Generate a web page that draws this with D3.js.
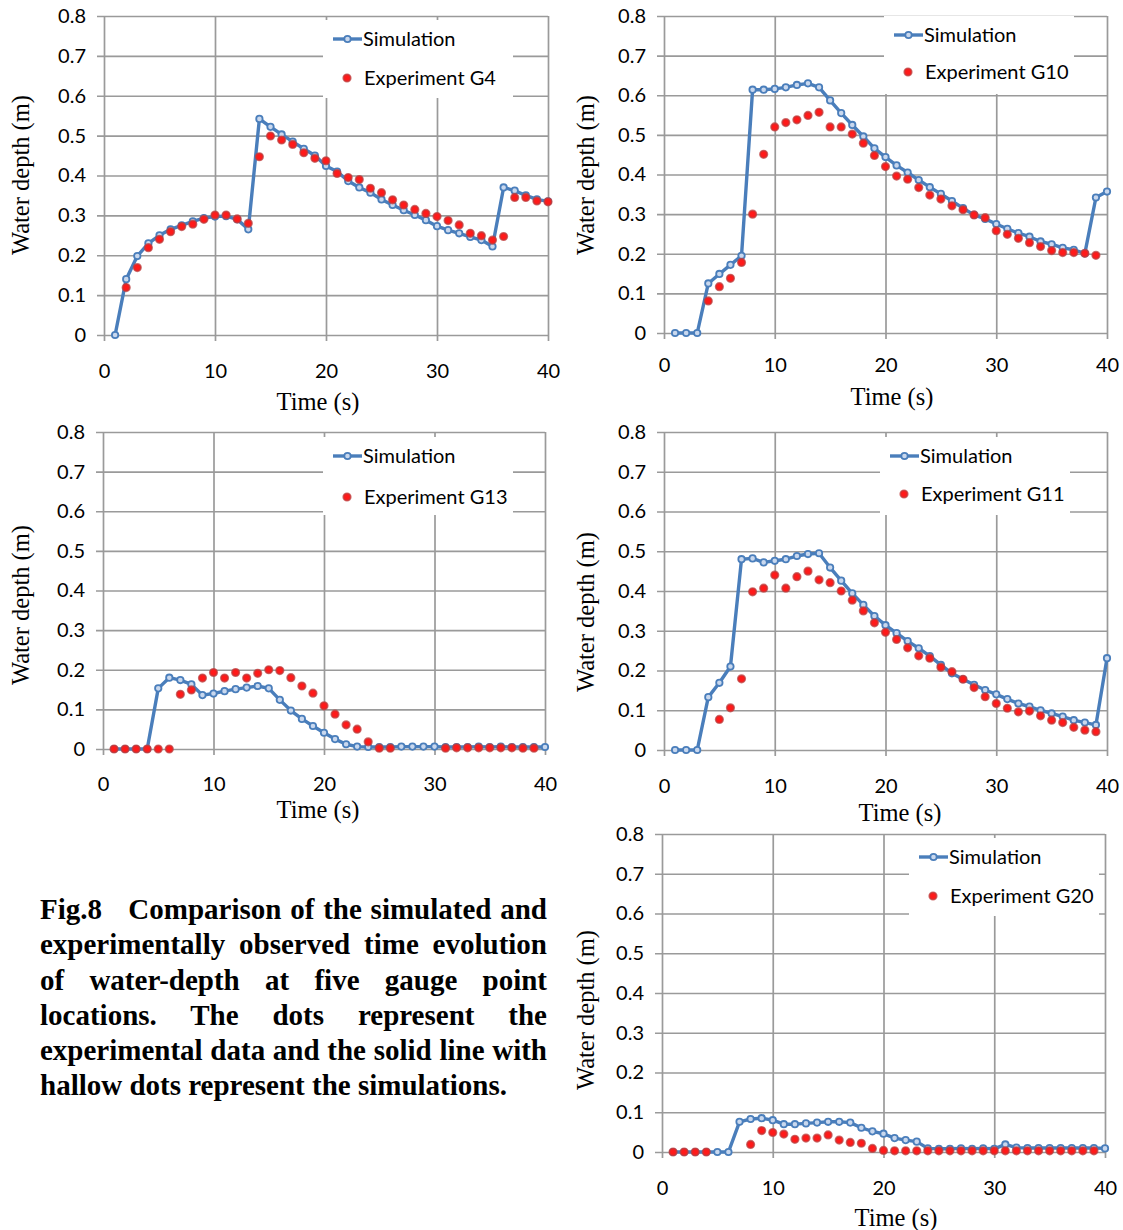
<!DOCTYPE html>
<html>
<head>
<meta charset="utf-8">
<script src="https://cdn.jsdelivr.net/npm/d3@7"></script>
<style>
  body { margin: 0; background: #fff; }
  #wrap { position: relative; width: 1123px; height: 1230px; }
  #caption { position: absolute; left: 40px; top: 892px; width: 507px;
    font-family: "Liberation Serif", "Times New Roman", serif; font-weight: bold;
    font-size: 29px; line-height: 35.3px; color: #000; }
  #caption div { text-align: justify; text-align-last: justify; white-space: nowrap; }
  #caption div.last { text-align-last: left; }
</style>
</head>
<body>
<div id="wrap">
  <svg id="chart" width="1123" height="1230"></svg>
  <div id="caption">
    <div>Fig.8&nbsp;&nbsp; Comparison of the simulated and</div>
    <div>experimentally observed time evolution</div>
    <div>of water-depth at five gauge point</div>
    <div>locations. The dots represent the</div>
    <div>experimental data and the solid line with</div>
    <div class="last">hallow dots represent the simulations.</div>
  </div>
</div>
<script>
// time in seconds, one sample per second
var time = [1,2,3,4,5,6,7,8,9,10,11,12,13,14,15,16,17,18,19,20,
            21,22,23,24,25,26,27,28,29,30,31,32,33,34,35,36,37,38,39,40];
var xTicks = [0,10,20,30,40];
var yTicks = [0,0.1,0.2,0.3,0.4,0.5,0.6,0.7,0.8];

var simG4 = [0,0.14,0.198,0.23,0.25,0.265,0.275,0.285,0.293,0.297,0.298,0.29,0.265,0.542,0.522,0.503,0.485,0.467,0.45,0.424,
             0.41,0.386,0.37,0.357,0.34,0.326,0.313,0.301,0.288,0.273,0.263,0.255,0.246,0.238,0.222,0.37,0.362,0.35,0.34,0.335];
var expG4 = [null,0.119,0.169,0.219,0.24,0.259,0.272,0.278,0.29,0.301,0.301,0.291,0.28,0.447,0.499,0.489,0.478,0.457,0.443,0.437,
             0.405,0.395,0.39,0.368,0.357,0.339,0.326,0.315,0.305,0.297,0.287,0.276,0.255,0.249,0.238,0.247,0.345,0.345,0.336,0.334];

var simG10 = [0,0,0,0.125,0.149,0.172,0.195,0.614,0.614,0.616,0.62,0.626,0.63,0.62,0.587,0.555,0.525,0.496,0.466,0.444,
              0.423,0.405,0.386,0.368,0.351,0.333,0.315,0.298,0.288,0.275,0.263,0.252,0.243,0.231,0.224,0.215,0.21,0.201,0.342,0.357];
var expG10 = [null,null,null,0.081,0.117,0.138,0.178,0.3,0.451,0.52,0.531,0.538,0.549,0.557,0.52,0.52,0.502,0.479,0.448,0.42,
              0.396,0.388,0.367,0.348,0.338,0.321,0.311,0.298,0.291,0.258,0.249,0.239,0.228,0.218,0.208,0.203,0.203,0.201,0.196,null];

var simG13 = [0,0,0,0,0.153,0.18,0.174,0.163,0.136,0.14,0.146,0.151,0.155,0.159,0.153,0.124,0.097,0.076,0.058,0.041,
              0.025,0.012,0.006,0.005,0.005,0.005,0.006,0.006,0.006,0.006,0.005,0.005,0.005,0.006,0.005,0.006,0.005,0.005,0.005,0.005];
var expG13 = [0,0,0,0,0,0,0.138,0.149,0.179,0.193,0.179,0.193,0.179,0.191,0.2,0.198,0.18,0.159,0.141,0.109,
              0.088,0.061,0.05,0.018,0.002,0.002,null,null,null,null,0.002,0.003,0.003,0.003,0.003,0.003,0.003,0.002,0.002,null];

var simG11 = [0,0,0,0.133,0.169,0.21,0.48,0.482,0.472,0.476,0.48,0.488,0.493,0.495,0.459,0.426,0.394,0.365,0.337,0.314,
              0.294,0.274,0.256,0.236,0.214,0.193,0.178,0.164,0.151,0.14,0.128,0.117,0.109,0.1,0.092,0.084,0.075,0.069,0.063,0.231];
var expG11 = [null,null,null,null,0.077,0.106,0.179,0.398,0.407,0.44,0.407,0.436,0.45,0.428,0.421,0.4,0.377,0.35,0.32,0.296,
              0.278,0.257,0.237,0.231,0.208,0.197,0.178,0.157,0.134,0.117,0.105,0.096,0.098,0.086,0.075,0.069,0.057,0.05,0.046,null];

var simG20 = [0,0,0,0,0,0,0.076,0.083,0.085,0.08,0.07,0.07,0.072,0.074,0.076,0.076,0.074,0.061,0.052,0.046,
              0.035,0.03,0.026,0.009,0.008,0.008,0.009,0.008,0.009,0.008,0.019,0.011,0.01,0.01,0.01,0.01,0.01,0.01,0.01,0.009];
var expG20 = [0,0,0,0,null,null,null,0.019,0.054,0.049,0.045,0.032,0.035,0.035,0.043,0.03,0.024,0.022,0.009,0.004,
              0.003,0.003,0.003,0.003,0.003,0.003,0.003,0.003,0.003,0.003,0.003,0.003,0.003,0.003,0.003,0.003,0.003,0.003,0.003,null];

var blue = "#4a7ebb", red = "#ff1a1a", grid = "#9a9a9a";
var sans = "Lato, 'Open Sans', sans-serif";
var serif = "'Liberation Serif', 'Times New Roman', serif";

// plot boxes in page pixels, legend box (lx, ly, gap between rows), x label padding and axis title spots
var panels = [
  {sim: simG4,  exp: expG4,  name: "Experiment G4",  l: 104, r: 548,  t: 16,  b: 335,  lx: 323, ly: 20,  gap: 39, pad: 23, yt: [20, 175],  xt: [318, 401]},
  {sim: simG10, exp: expG10, name: "Experiment G10", l: 664, r: 1107, t: 16,  b: 333,  lx: 884, ly: 16,  gap: 37, pad: 19, yt: [585, 175], xt: [892, 396]},
  {sim: simG13, exp: expG13, name: "Experiment G13", l: 103, r: 545,  t: 432, b: 749,  lx: 323, ly: 437, gap: 41, pad: 22, yt: [20, 605],  xt: [318, 809]},
  {sim: simG11, exp: expG11, name: "Experiment G11", l: 664, r: 1107, t: 432, b: 750,  lx: 880, ly: 437, gap: 38, pad: 23, yt: [585, 612], xt: [900, 812]},
  {sim: simG20, exp: expG20, name: "Experiment G20", l: 662, r: 1105, t: 834, b: 1152, lx: 909, ly: 838, gap: 39, pad: 23, yt: [585, 1010], xt: [896, 1217]}
];

var svg = d3.select("#chart");

panels.forEach(function (p) {
  var x = d3.scaleLinear().domain([0, 40]).range([p.l, p.r]);
  var y = d3.scaleLinear().domain([0, 0.8]).range([p.b, p.t]);
  var w = p.r - p.l, h = p.b - p.t;
  var g = svg.append("g");

  // horizontal grid + y tick labels
  var ya = g.append("g")
    .attr("transform", "translate(" + (p.l - 7) + ",0)")
    .call(d3.axisLeft(y).tickValues(yTicks).tickSize(-(w + 7)).tickPadding(11)
      .tickFormat(function (d) { return d === 0 ? "0" : d3.format(".1f")(d); }));
  // vertical grid + x tick labels
  var xa = g.append("g")
    .attr("transform", "translate(0," + (p.b + 6) + ")")
    .call(d3.axisBottom(x).tickValues(xTicks).tickSize(-(h + 6)).tickPadding(p.pad));

  [ya, xa].forEach(function (a) {
    a.select(".domain").remove();
    a.selectAll("line").attr("stroke", grid).attr("stroke-width", 1.7);
    a.selectAll("text").attr("font-family", sans).attr("font-size", 20).attr("fill", "#000");
  });

  // simulation line with hollow markers
  var line = d3.line()
    .defined(function (d) { return d != null; })
    .x(function (d, i) { return x(time[i]); })
    .y(function (d) { return y(d); });

  g.append("path").datum(p.sim)
    .attr("d", line)
    .attr("fill", "none")
    .attr("stroke", blue)
    .attr("stroke-width", 3.4)
    .attr("stroke-linejoin", "round");

  g.selectAll(".sm").data(p.sim).enter().append("circle")
    .attr("cx", function (d, i) { return x(time[i]); })
    .attr("cy", function (d) { return y(d); })
    .attr("r", 3.2)
    .attr("fill", "#c9d8ee")
    .attr("stroke", blue)
    .attr("stroke-width", 1.8);

  // experiment dots
  var ex = p.exp.map(function (d, i) { return {t: time[i], v: d}; })
    .filter(function (d) { return d.v != null; });
  g.selectAll(".em").data(ex).enter().append("circle")
    .attr("cx", function (d) { return x(d.t); })
    .attr("cy", function (d) { return y(d.v); })
    .attr("r", 3.7)
    .attr("fill", red)
    .attr("stroke", "rgba(190,60,60,0.75)")
    .attr("stroke-width", 1.8);

  // legend
  var y2 = 19 + p.gap;
  var lg = g.append("g").attr("transform", "translate(" + p.lx + "," + p.ly + ")");
  lg.append("rect").attr("width", 190).attr("height", 78).attr("fill", "#fff");
  lg.append("line").attr("x1", 10).attr("x2", 39).attr("y1", 19).attr("y2", 19)
    .attr("stroke", blue).attr("stroke-width", 3.4);
  lg.append("circle").attr("cx", 24.5).attr("cy", 19).attr("r", 3.2)
    .attr("fill", "#c9d8ee").attr("stroke", blue).attr("stroke-width", 1.8);
  lg.append("circle").attr("cx", 24).attr("cy", y2).attr("r", 3.7)
    .attr("fill", red).attr("stroke", "rgba(190,60,60,0.75)").attr("stroke-width", 1.8);
  lg.append("text").attr("x", 40).attr("y", 19).attr("dy", "0.35em").text("Simulation");
  lg.append("text").attr("x", 41).attr("y", y2).attr("dy", "0.35em").text(p.name);
  lg.selectAll("text").attr("font-family", sans).attr("font-size", 20).attr("fill", "#000");

  // axis titles
  g.append("text")
    .attr("transform", "translate(" + p.yt[0] + "," + p.yt[1] + ") rotate(-90)")
    .attr("text-anchor", "middle").attr("dy", "0.35em")
    .attr("font-family", serif).attr("font-size", 24.5).text("Water depth (m)");
  g.append("text")
    .attr("x", p.xt[0]).attr("y", p.xt[1])
    .attr("text-anchor", "middle").attr("dy", "0.35em")
    .attr("font-family", serif).attr("font-size", 24.5).text("Time (s)");
});
</script>
</body>
</html>
